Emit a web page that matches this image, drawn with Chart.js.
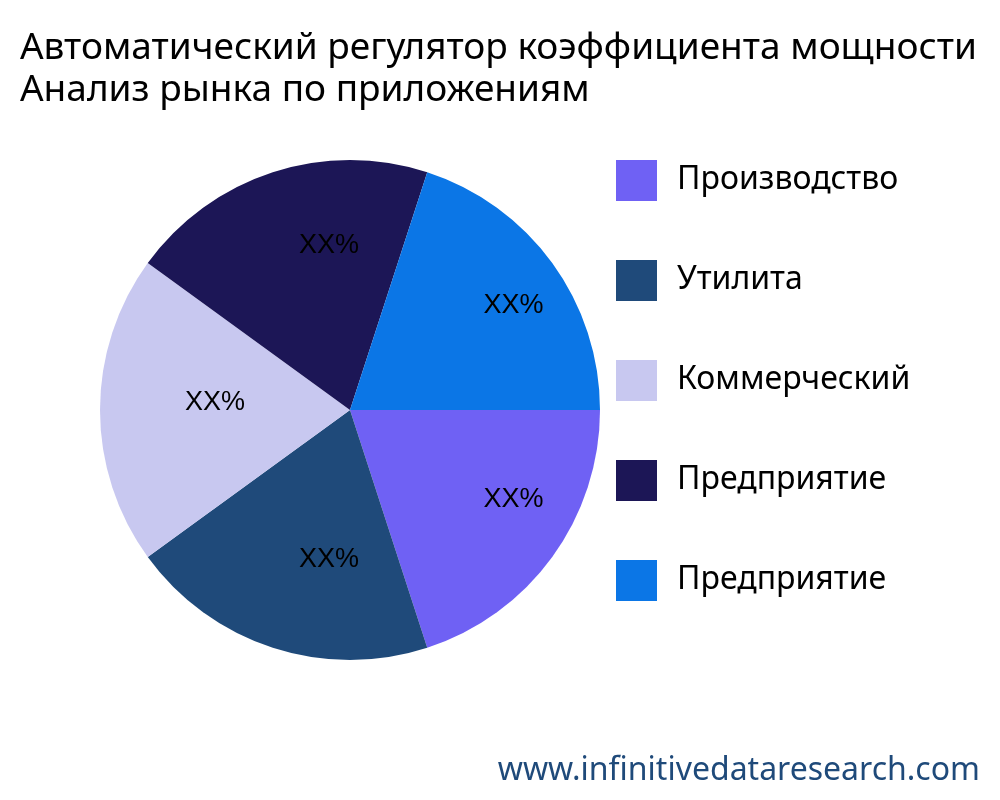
<!DOCTYPE html>
<html><head><meta charset="utf-8">
<script src="https://cdn.jsdelivr.net/npm/chart.js@4"></script>
<style>body{margin:0;background:#fff}#w{width:1000px;height:800px}</style></head>
<body><div id="w"><canvas id="c"></canvas></div>
<script>
const titleLines = ["Автоматический регулятор коэффициента мощности", "Анализ рынка по приложениям"];
const categories = ["Производство", "Утилита", "Коммерческий", "Предприятие", "Предприятие"];
const values = [20, 20, 20, 20, 20];
const sliceLabels = ["XX%", "XX%", "XX%", "XX%", "XX%"];
const colors = ["#6f61f4", "#1f4a7a", "#c8c8f0", "#1c1656", "#0b76e6"];
const watermark = "www.infinitivedataresearch.com";

const deco = {
  id: "deco",
  afterDraw(chart) {
    const ctx = chart.ctx;
    ctx.save();
    ctx.fillStyle = "#000";
    ctx.font = "37px 'Noto Sans'";
    ctx.textBaseline = "alphabetic";
    ctx.textAlign = "left";
    ctx.fillText(titleLines[0], 20, 59);
    ctx.fillText(titleLines[1], 20, 101);
    const meta = chart.getDatasetMeta(0);
    ctx.font = "27px 'Liberation Sans'";
    ctx.textAlign = "left";
    ctx.textBaseline = "alphabetic";
    meta.data.forEach((a, i) => {
      const mid = (a.startAngle + a.endAngle) / 2;
      const r = a.outerRadius * 0.66;
      ctx.fillText(sliceLabels[i], a.x + Math.cos(mid) * r, a.y + Math.sin(mid) * r);
    });
    ctx.font = "32px 'Noto Sans'";
    ctx.textBaseline = "middle";
    categories.forEach((c, i) => {
      const y = 180 + i * 100;
      ctx.fillStyle = colors[i];
      ctx.fillRect(616, y - 20, 41, 41);
      ctx.fillStyle = "#000";
      ctx.fillText(c, 677, y);
    });
    ctx.fillStyle = "#1f4a7a";
    ctx.textAlign = "right";
    ctx.textBaseline = "alphabetic";
    ctx.fillText(watermark, 980, 780);
    ctx.restore();
  }
};

new Chart(document.getElementById("c"), {
  type: "pie",
  data: { labels: categories, datasets: [{ data: values, backgroundColor: colors, borderWidth: 0 }] },
  options: {
    responsive: true, maintainAspectRatio: false, animation: false,
    rotation: 90,
    layout: { padding: { left: 100, right: 400, top: 160, bottom: 140 } },
    plugins: { legend: { display: false }, tooltip: { enabled: false } }
  },
  plugins: [deco]
});
</script></body></html>
